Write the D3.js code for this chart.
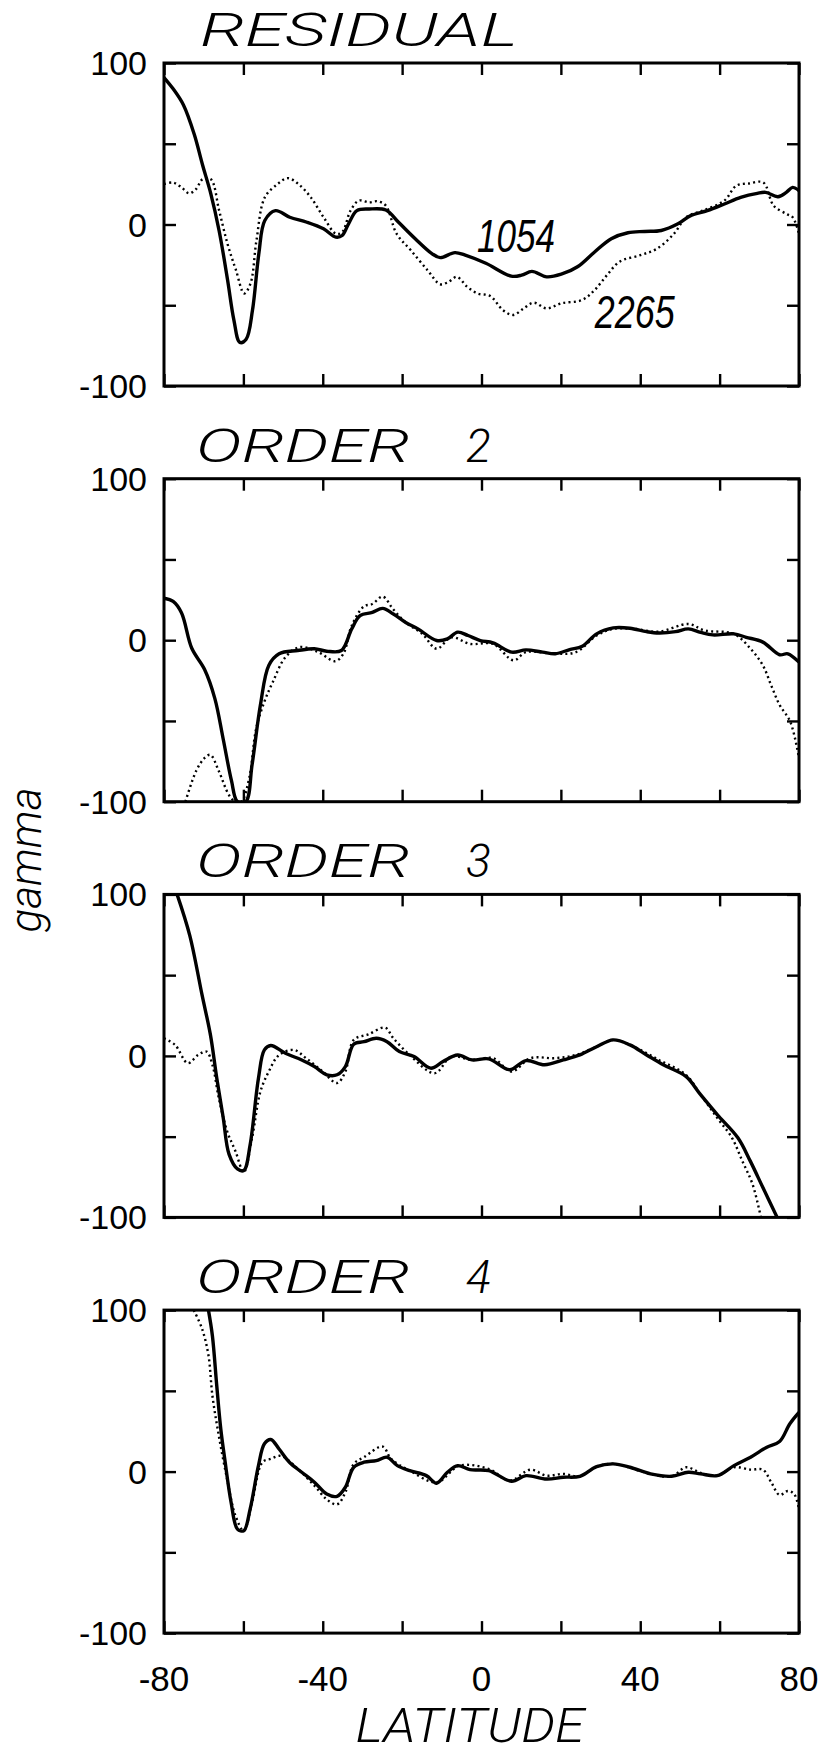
<!DOCTYPE html>
<html>
<head>
<meta charset="utf-8">
<script src="https://cdn.jsdelivr.net/npm/d3@7"></script>
<style>
  body { margin: 0; background: #fff; }
</style>
</head>
<body>
<div id="chartContainer"></div>
<script>
// --- data ---
const panelNames = ["RESIDUAL", "ORDER", "ORDER", "ORDER"];
const panelNumbers = ["", "2", "3", "4"];
const yTickValues = [-100, -50, 0, 50, 100];
const yTickLabels = ["-100", "", "0", "", "100"];
const xTickValues = [-80, -60, -40, -20, 0, 20, 40, 60, 80];
const xTickLabels = ["-80", "", "-40", "", "0", "", "40", "", "80"];
const curveLabels = ["1054", "2265"];

// RESIDUAL
const res1054Lat = [-80,-77.7,-75.1,-72.4,-70.3,-68.2,-66.1,-64,-62.4,-60.9,-59.3,-57.7,-56.1,-54.6,-51.9,-48.3,-44,-39.8,-36.7,-35.1,-33.5,-31.4,-28.3,-24.1,-20.9,-16.7,-12.5,-10.4,-6.7,-4.1,1.1,7.5,10.1,12.7,16.4,20.1,24.3,28.5,32.7,36.9,41.1,45.3,49.5,52.7,56.9,61.2,65.3,69.5,71.6,74.7,76.8,78.4,80];
const res1054 = [91,84,74,56,37,19,-4,-34,-59,-73,-71,-53,-18,2.5,8.6,4.5,1.4,-2.7,-7.8,-6.8,0.4,8.6,9.6,9,1.4,-8.8,-18,-20.5,-17.4,-19,-24,-32,-31.4,-29,-32.4,-30.8,-26,-17,-8.8,-5.1,-4.3,-3.7,0.4,5.5,8.6,12.7,16.8,19.3,19.9,17.2,19.9,23,21];
const res2265Lat = [-80,-77.7,-75.6,-73.7,-71.9,-70.3,-68.2,-66.1,-64,-61.9,-59.8,-58.2,-56.7,-54.6,-51.4,-48.8,-46.1,-43,-39.8,-36.7,-35.1,-33,-30.9,-28.3,-26.2,-24.1,-21.4,-17.8,-13.6,-10.4,-8.3,-6.2,-3.6,-1,2.2,5.4,8,10.6,13.2,16.4,20.1,25.3,28.5,31.6,34.8,40,44.2,48.5,51.6,55.8,61.2,64.2,67.4,71,73.6,76.8,78.4,80];
const res2265 = [25,26,23,19.3,22,28,28,8.6,-12,-28,-42.7,-36.5,-9.8,16.8,25,28.7,25,16.8,4.5,-5.7,-4.7,8.6,14.8,13.7,14.4,11.7,-5.7,-16,-28.3,-37,-35.5,-32.4,-38.6,-42.7,-44.3,-53,-56,-52,-48.4,-52,-48.8,-46.8,-40.6,-31.4,-23,-19,-15,-5.7,4.5,8.6,14.8,24,25.4,26,11.7,6.6,4.5,-5.7];

// ORDER 2
const ord2_1054Lat = [-80,-77.7,-75.6,-73,-69.8,-67.2,-65.1,-63,-61.5,-59.4,-57.8,-55.7,-53.6,-51,-46.3,-42.1,-39,-35.3,-32.7,-30.6,-27.5,-24.9,-22.2,-19.1,-16,-11.3,-8.6,-6,-3.4,-0.3,2.9,7.6,11.2,15.4,18.6,22.2,25.4,29,33.2,37.4,41.6,44.7,48.9,52.1,55.2,58.3,63.6,66.7,70.9,75.1,77.2,80];
const ord2_1054 = [26,24,17,-5,-18,-36,-61,-87,-100,-100,-77,-40,-15.6,-8.4,-6.4,-5.3,-6.8,-6.4,7,15.2,17.2,19.7,16.2,11,7,-0.2,0.8,5,2.9,-0.2,-1.6,-7.4,-6,-7.4,-8.4,-5.8,-3.7,3.9,7.6,7.4,5.3,4.5,5.3,7,4.9,3.3,3.9,1.8,-1.2,-9,-8.4,-13.6];
const ord2_2265Lat = [-74.6,-71.9,-69.8,-68.3,-66.2,-63.6,-62,-60.5,-58.5,-56.8,-54.7,-52.6,-49.4,-45.8,-41.1,-36.9,-34.8,-32.7,-29.6,-27.5,-24.9,-22.2,-19.1,-14.9,-11.3,-7.6,-2.9,2.9,8.1,11.2,18.6,23.8,29,33.2,38.4,44.7,52.1,56.3,63.6,67.8,70.9,73,75.1,77.8,80];
const ord2_2265 = [-100,-81,-73,-71,-81,-96,-100,-100,-85,-55,-38,-26,-10.5,-4.3,-7.4,-13,-8.4,9,21,22.4,27,19,11,3.9,-5.3,1.8,-2.3,-2.3,-12.5,-7.4,-8.4,-7.4,2.9,7,7,5.3,10,6,3.9,-5.3,-15.6,-28,-40,-50.5,-73];

// ORDER 3
const ord3_1054Lat = [-76.7,-73.5,-70.4,-68.3,-66.7,-65.1,-63.6,-61.5,-59.9,-58.3,-56.2,-54.7,-53.1,-49.4,-45.3,-42.1,-39,-36.4,-34.3,-32.2,-29.6,-26.5,-23.8,-20.7,-17,-12.8,-9.7,-6,-2.4,1.8,7.1,11.2,15.9,20.6,24.8,29,33.2,37.4,41.6,45.8,51.5,55.2,59.4,64.6,67.7,70.9,74.5];
const ord3_1054 = [100,74.5,37.6,13,-13.8,-38,-61,-70,-71,-55,-13.8,3.7,6.4,1.6,-2.5,-6.6,-11.7,-11.7,-6.6,7.2,8.8,10.9,8.8,2.7,-0.4,-7.6,-3.5,0.6,-2.5,-1.8,-8.6,-2.9,-5.5,-2.5,0.6,5.7,9.9,6.8,0.6,-5.5,-12.7,-24,-36.3,-50.7,-65,-81.5,-100];
const ord3_2265Lat = [-80,-77.2,-74,-71.4,-69.3,-67.8,-66.2,-64.1,-62,-59.9,-57.8,-55.7,-53.6,-51,-47.3,-44.2,-40,-36.4,-34.3,-32.2,-28.5,-24.3,-22.2,-18.1,-11.8,-7.6,-2.4,2.9,7.6,12.3,18.6,23.8,29,33.2,37.4,44.7,51.5,55.2,59.4,63.1,65.7,68.3,70.4];
const ord3_2265 = [10.9,6.8,-4.5,0.6,2.7,-5.5,-26,-46.6,-59,-72,-50.7,-22,-9.7,0.6,3.7,-1.4,-9.7,-16.8,-9.7,9.9,13.3,17.5,10.9,0.6,-10.7,-0.4,-2.5,-1.4,-9.7,-1.4,-1.4,0.6,5.7,9.9,6.8,-2.5,-11.7,-24,-38.4,-50.7,-65,-79.5,-100];

// ORDER 4
const ord4_1054Lat = [-68.8,-67.8,-66.7,-65.7,-64.7,-63.1,-61.5,-59.9,-58.3,-56.2,-54.7,-53.1,-51,-48.4,-45.3,-42.1,-39,-36.4,-34.3,-32.2,-29.6,-26.5,-23.8,-21.2,-18.1,-13.9,-11.3,-8.6,-6,-2.9,1.8,7.6,11.2,16.4,20.6,24.8,29,33.2,37.4,42.6,47.9,52.1,55.2,59.4,63.6,67.8,71.9,75.1,77.7,80];
const ord4_1054 = [100,84,53,26.5,7.9,-19,-35.6,-36.6,-23.2,3.7,17.2,19.9,14,5.8,-0.4,-6.6,-13.9,-15.3,-9.7,2.7,5.8,6.8,8.9,3.7,0.6,-2.5,-7.2,-0.4,3.7,1.2,0.6,-6,-2.5,-4.6,-3.5,-2.9,3.1,4.8,2.7,-1.4,-2.9,-0.4,-1.4,-2.5,3.7,8.9,15.1,18.6,29.6,36.6];
const ord4_2265Lat = [-72.5,-70.4,-68.8,-67.8,-66.2,-64.1,-62,-59.9,-57.8,-55.2,-53.1,-50.5,-46.3,-42.1,-39,-36.4,-34.3,-32.2,-29.6,-24.9,-22.8,-18.1,-11.3,-5.5,1.8,7.1,12.3,16.4,20.6,24.8,29,33.2,42.6,47.9,51.6,55.2,59.4,63.6,67.8,70.9,73,75.1,77.2,78.8,80];
const ord4_2265 = [100,88.4,72,47,22.4,-4.6,-27.3,-36.6,-19,5.8,7.9,9.7,1.7,-8.7,-17.2,-20.3,-12.8,4.8,8.9,15.5,7.9,0.6,-6.6,3.7,1.7,-5.6,1.2,-2.5,-1.4,-2.9,3.1,4.8,-1.4,-2.9,2.7,-0.8,-2.5,2.7,1.2,1.2,-6.6,-14.5,-12,-13.9,-23.2];

(function() {
    const chartContainer = document.getElementById('chartContainer');

    const fullWidth = 823;
    const fullHeight = 1753;
    const margin = {top: 63, left: 164, right: 24};
    const width = fullWidth - margin.left - margin.right;
    const panelHeight = 323;
    const panelStep = 415.7;

    const labelFont = "'Liberation Sans', Arial, sans-serif";
    const thinFont = "Roboto, Lato, 'Open Sans', 'DejaVu Sans', sans-serif";

    // pair up the arrays per panel
    const panels = [
        {solid: [res1054Lat, res1054], dotted: [res2265Lat, res2265]},
        {solid: [ord2_1054Lat, ord2_1054], dotted: [ord2_2265Lat, ord2_2265]},
        {solid: [ord3_1054Lat, ord3_1054], dotted: [ord3_2265Lat, ord3_2265]},
        {solid: [ord4_1054Lat, ord4_1054], dotted: [ord4_2265Lat, ord4_2265]}
    ];
    const toPoints = ([lat, val]) => lat.map((d, i) => [d, val[i]]);

    const svg = d3.create("svg")
        .attr("width", fullWidth)
        .attr("height", fullHeight)
        .attr("viewBox", [0, 0, fullWidth, fullHeight]);

    svg.append("rect").attr("width", fullWidth).attr("height", fullHeight).attr("fill", "#fff");

    const x = d3.scaleLinear().domain([-80, 80]).range([0, width]);
    const y = d3.scaleLinear().domain([-100, 100]).range([panelHeight, 0]);

    const line = d3.line()
        .x(d => x(d[0]))
        .y(d => y(d[1]))
        .curve(d3.curveCatmullRom.alpha(0.5));

    // thin italic lettering for the titles
    const thinText = sel => sel
        .attr("font-family", thinFont)
        .attr("font-weight", 300)
        .attr("font-style", "italic")
        .attr("fill", "#000");

    panels.forEach((p, i) => {
        const top = margin.top + i * panelStep;
        const g = svg.append("g")
            .attr("transform", `translate(${margin.left}, ${top})`);

        // clip so curves stop at the frame
        g.append("clipPath").attr("id", `clip${i}`)
          .append("rect").attr("width", width).attr("height", panelHeight);

        // title
        g.append("text")
            .call(thinText)
            .attr("x", (i === 0 ? 36 : 32))
            .attr("y", -17)
            .attr("font-size", 46)
            .attr("textLength", i === 0 ? 318 : 214)
            .attr("lengthAdjust", "spacingAndGlyphs")
            .text(panelNames[i]);
        if (panelNumbers[i]) {
            g.append("text")
                .call(thinText)
                .attr("x", 302)
                .attr("y", -17)
                .attr("font-size", 46)
                .text(panelNumbers[i]);
        }

        // ticks on all four sides, pointing in
        const yAxisL = d3.axisLeft(y).tickValues(yTickValues).tickSize(-12).tickFormat("");
        const yAxisR = d3.axisRight(y).tickValues(yTickValues).tickSize(-12).tickFormat("");
        const xAxisT = d3.axisTop(x).tickValues(xTickValues).tickSize(-12).tickFormat("");
        const xAxisB = d3.axisBottom(x).tickValues(xTickValues).tickSize(-12).tickFormat("");
        [[yAxisL, [0, 0]], [yAxisR, [width, 0]], [xAxisT, [0, 0]], [xAxisB, [0, panelHeight]]]
            .forEach(([ax, t]) => {
                const a = g.append("g").attr("transform", `translate(${t[0]}, ${t[1]})`).call(ax);
                a.select(".domain").remove();
                a.selectAll("line").attr("stroke", "#000").attr("stroke-width", 2.4);
            });

        // y tick labels
        g.selectAll(".ylab")
            .data(yTickValues.filter((d, k) => yTickLabels[k]))
            .join("text")
              .attr("x", -17)
              .attr("y", d => y(d) + 12)
              .attr("text-anchor", "end")
              .attr("font-family", labelFont)
              .attr("font-size", 34)
              .text(d => yTickLabels[yTickValues.indexOf(d)]);

        // frame
        g.append("rect")
            .attr("width", width).attr("height", panelHeight)
            .attr("fill", "none").attr("stroke", "#000").attr("stroke-width", 3);

        const curves = g.append("g").attr("clip-path", `url(#clip${i})`);
        curves.append("path")
            .datum(toPoints(p.dotted))
            .attr("d", line)
            .attr("fill", "none")
            .attr("stroke", "#000")
            .attr("stroke-width", 2.4)
            .attr("stroke-dasharray", "2,3.2");
        curves.append("path")
            .datum(toPoints(p.solid))
            .attr("d", line)
            .attr("fill", "none")
            .attr("stroke", "#000")
            .attr("stroke-width", 3.4)
            .attr("stroke-linejoin", "round");

        if (i === 0) {
            // curve labels
            g.append("text")
                .attr("x", x(8.7)).attr("y", y(-17))
                .attr("text-anchor", "middle")
                .attr("font-family", labelFont).attr("font-style", "italic")
                .attr("font-size", 46)
                .attr("textLength", 78).attr("lengthAdjust", "spacingAndGlyphs")
                .text(curveLabels[0]);
            g.append("text")
                .attr("x", x(38.6)).attr("y", y(-64))
                .attr("text-anchor", "middle")
                .attr("font-family", labelFont).attr("font-style", "italic")
                .attr("font-size", 46)
                .attr("textLength", 80).attr("lengthAdjust", "spacingAndGlyphs")
                .text(curveLabels[1]);
        }

        if (i === panels.length - 1) {
            g.selectAll(".xlab")
                .data(xTickValues.filter((d, k) => xTickLabels[k]))
                .join("text")
                  .attr("x", d => x(d))
                  .attr("y", panelHeight + 58)
                  .attr("text-anchor", "middle")
                  .attr("font-family", labelFont)
                  .attr("font-size", 35)
                  .text(d => xTickLabels[xTickValues.indexOf(d)]);
        }
    });

    // axis titles
    svg.append("text")
        .call(thinText)
        .attr("x", 470).attr("y", 1742)
        .attr("text-anchor", "middle")
        .attr("font-size", 48)
        .attr("textLength", 229).attr("lengthAdjust", "spacingAndGlyphs")
        .text("LATITUDE");

    svg.append("text")
        .call(thinText)
        .attr("transform", "translate(41, 860) rotate(-90)")
        .attr("text-anchor", "middle")
        .attr("font-size", 44)
        .attr("textLength", 145).attr("lengthAdjust", "spacingAndGlyphs")
        .text("gamma");

    chartContainer.append(svg.node());
})();
</script>
</body>
</html>
